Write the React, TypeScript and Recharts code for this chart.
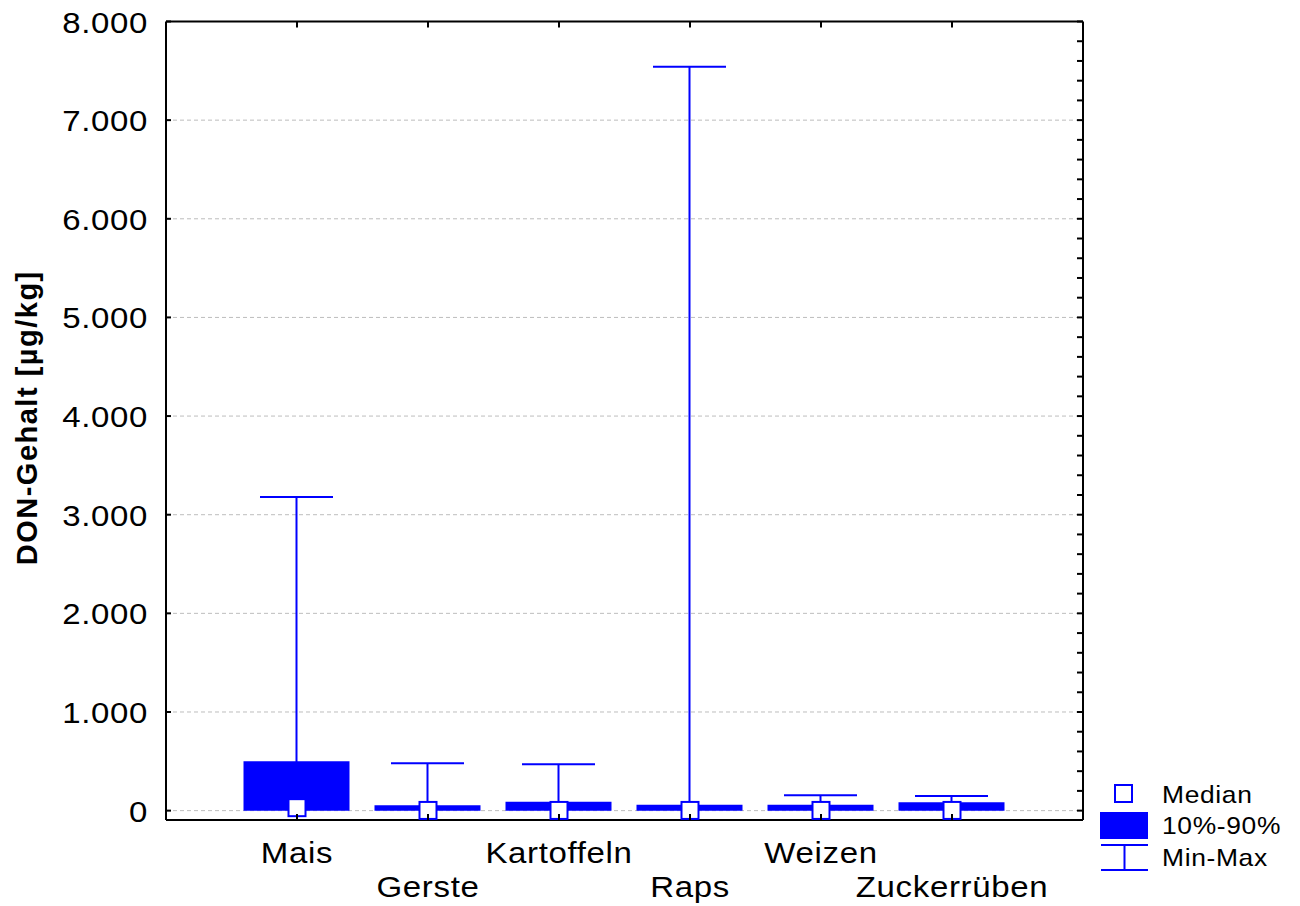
import { ComposedChart, Bar, Scatter, XAxis, YAxis, CartesianGrid } from "recharts"

const categories = ["Mais", "Gerste", "Kartoffeln", "Raps", "Weizen", "Zuckerrüben"]
const minValues = [0, 0, 0, 0, 0, 0]
const p10Values = [0, 0, 0, 0, 0, 0]
const p90Values = [500, 55, 90, 60, 60, 85]
const maxValues = [3180, 480, 470, 7540, 156, 149]
const medianValues = [30, 2, 2, 2, 2, 2]

const yTicks = [0, 1000, 2000, 3000, 4000, 5000, 6000, 7000, 8000]
const yMinorTicks = Array.from({ length: 41 }, (_, i) => i * 200)
const xTicks = [1, 2, 3, 4, 5, 6]

const BLUE = "#0000ff"
const FONT = "'Liberation Sans', Arial, sans-serif"

const data = categories.map((name, i) => ({
  x: i + 1,
  name,
  whisker: [minValues[i], maxValues[i]],
  box: [p10Values[i], p90Values[i]],
  median: medianValues[i],
}))

const fmt = (v: number) => v.toLocaleString("de-DE")

// text in the original is slightly stretched horizontally
function Stretched({ x, y, anchor, size, children }: any) {
  return (
    <text
      transform={`translate(${x},${y}) scale(1.1,1)`}
      textAnchor={anchor}
      fontSize={size}
      letterSpacing={0.6}
      fontFamily={FONT}
      fill="#000"
    >
      {children}
    </text>
  )
}

function LeftTick({ x, y, payload }: any) {
  return (
    <g>
      <line x1={x} x2={x + 5} y1={y} y2={y} stroke="#000" strokeWidth={2} />
      <Stretched x={x - 18} y={y + 11} anchor="end" size={30}>
        {fmt(payload.value)}
      </Stretched>
    </g>
  )
}

function RightTick({ x, y }: any) {
  return <line x1={x} x2={x - 6} y1={y} y2={y} stroke="#000" strokeWidth={2} />
}

function TopTick({ x, y }: any) {
  return <line x1={x} x2={x} y1={y} y2={y + 6} stroke="#000" strokeWidth={2} />
}

function BottomTick({ x, y, payload }: any) {
  const idx = payload.value - 1
  const row = idx % 2 === 0 ? 43 : 77
  return (
    <g>
      <line x1={x} x2={x} y1={y} y2={y - 6} stroke="#000" strokeWidth={2} />
      <Stretched x={x} y={y + row} anchor="middle" size={30}>
        {categories[idx]}
      </Stretched>
    </g>
  )
}

function WhiskerShape({ x, y, width, height }: any) {
  const cx = x + width / 2
  return (
    <g>
      <line x1={cx} x2={cx} y1={y} y2={y + height} stroke={BLUE} strokeWidth={2} />
      <line x1={cx - 36.5} x2={cx + 36.5} y1={y} y2={y} stroke={BLUE} strokeWidth={2} />
    </g>
  )
}

function MedianShape({ cx, cy }: any) {
  return <rect x={cx - 8.5} y={cy - 8.5} width={17} height={17} fill="#fff" stroke={BLUE} strokeWidth={2} />
}

function YLabel({ viewBox }: any) {
  const cy = viewBox.y + viewBox.height / 2 - 3
  return (
    <text
      x={37}
      y={cy}
      transform={`rotate(-90, 37, ${cy})`}
      textAnchor="middle"
      fontSize={29}
      fontWeight="bold"
      letterSpacing={1.5}
      fontFamily={FONT}
      fill="#000"
    >
      DON-Gehalt [µg/kg]
    </text>
  )
}

function LegendBox() {
  return (
    <div style={{ position: "absolute", left: 1095, top: 775 }}>
      <svg width={205} height={110}>
        <rect x={20} y={10} width={17} height={17} fill="#fff" stroke={BLUE} strokeWidth={2} />
        <Stretched x={67} y={28} anchor="start" size={24}>Median</Stretched>
        <rect x={5} y={37} width={48} height={27} fill={BLUE} />
        <Stretched x={67} y={59} anchor="start" size={24}>10%-90%</Stretched>
        <line x1={6} x2={53} y1={70} y2={70} stroke={BLUE} strokeWidth={2} />
        <line x1={29.5} x2={29.5} y1={70} y2={95} stroke={BLUE} strokeWidth={2} />
        <line x1={6} x2={53} y1={95} y2={95} stroke={BLUE} strokeWidth={2} />
        <Stretched x={67} y={91} anchor="start" size={24}>Min-Max</Stretched>
      </svg>
    </div>
  )
}

export default function App() {
  return (
    <div style={{ position: "relative", width: 1300, height: 906, background: "#fff" }}>
      <style>{`body{margin:0}`}</style>
      <ComposedChart
        width={1300}
        height={906}
        data={data}
        margin={{ top: 20.5, right: 216, bottom: 85, left: 165 }}
        barGap={-106}
      >
        <CartesianGrid
          horizontal
          vertical={false}
          stroke="#bdbdbd"
          strokeDasharray="4 3"
          horizontalValues={yTicks.filter((t) => t < 8000)}
        />
        <XAxis
          dataKey="x"
          type="number"
          domain={[0, 7]}
          ticks={xTicks}
          allowDataOverflow
          height={1}
          axisLine={{ stroke: "#000", strokeWidth: 2 }}
          tickLine={false}
          tickSize={0}
          tickMargin={0}
          tick={<BottomTick />}
          interval={0}
        />
        <XAxis
          xAxisId="top"
          orientation="top"
          dataKey="x"
          type="number"
          domain={[0, 7]}
          ticks={xTicks}
          allowDataOverflow
          height={1}
          axisLine={{ stroke: "#000", strokeWidth: 2 }}
          tickLine={false}
          tickSize={0}
          tickMargin={0}
          tick={<TopTick />}
          interval={0}
        />
        <YAxis
          type="number"
          domain={[-95, 8000]}
          ticks={yTicks}
          allowDataOverflow
          width={1}
          axisLine={{ stroke: "#000", strokeWidth: 2 }}
          tickLine={false}
          tickSize={0}
          tickMargin={0}
          tick={<LeftTick />}
          interval={0}
          label={<YLabel />}
        />
        <YAxis
          yAxisId="right"
          orientation="right"
          type="number"
          domain={[-95, 8000]}
          ticks={yMinorTicks}
          allowDataOverflow
          width={1}
          axisLine={{ stroke: "#000", strokeWidth: 2 }}
          tickLine={false}
          tickSize={0}
          tickMargin={0}
          tick={<RightTick />}
          interval={0}
        />
        <Bar dataKey="whisker" barSize={106} shape={<WhiskerShape />} isAnimationActive={false} />
        <Bar dataKey="box" barSize={106} fill={BLUE} isAnimationActive={false} />
        <Scatter dataKey="median" shape={<MedianShape />} isAnimationActive={false} />
      </ComposedChart>
      <LegendBox />
    </div>
  )
}
